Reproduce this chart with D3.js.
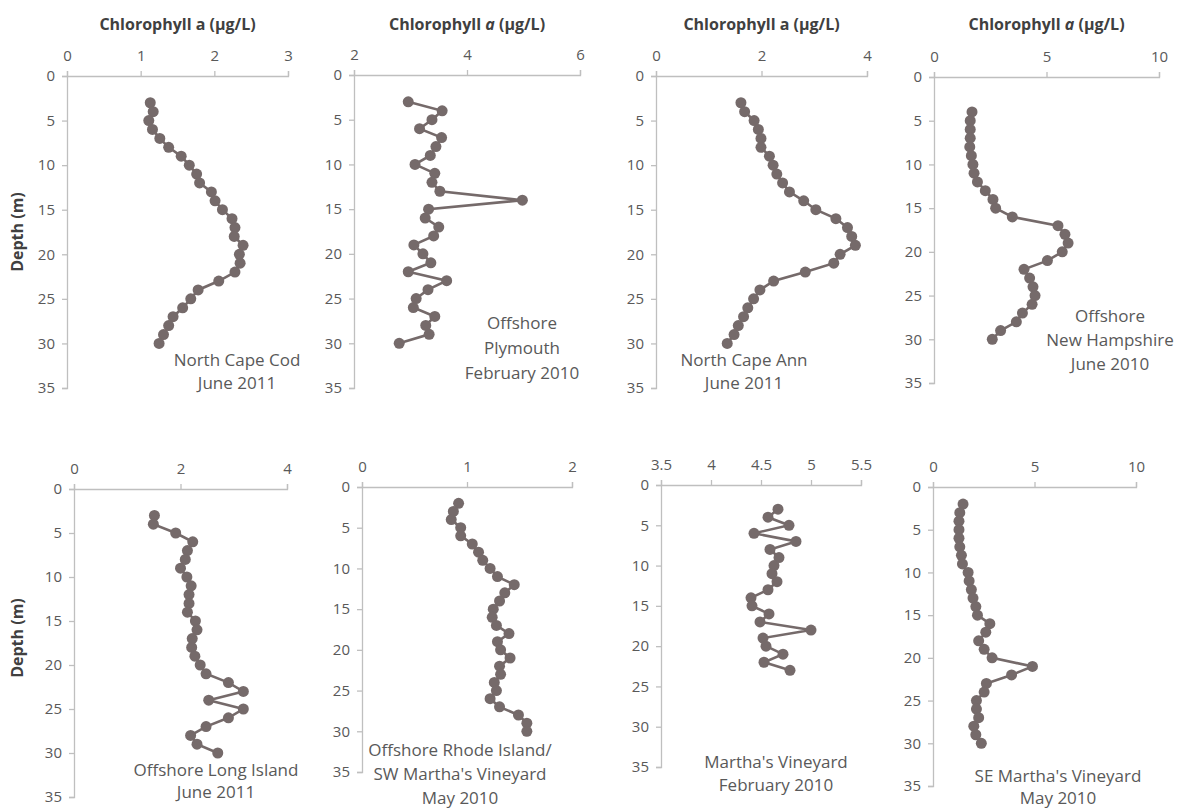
<!DOCTYPE html>
<html>
<head>
<meta charset="utf-8">
<script src="https://cdn.jsdelivr.net/npm/d3@7"></script>
<style>
  body { margin: 0; background: #fff; }
  svg { font-family: "Open Sans", "Liberation Sans", sans-serif; }
</style>
</head>
<body>
<script>
// depth (m) and chlorophyll a (ug/L) per station
var depthCapeCod = d3.range(3, 31);
var chlCapeCod = [1.13, 1.17, 1.11, 1.16, 1.26, 1.38, 1.55, 1.66, 1.76, 1.80, 1.96, 2.01, 2.11, 2.24,
    2.28, 2.27, 2.39, 2.34, 2.35, 2.28, 2.06, 1.78, 1.68, 1.57, 1.44, 1.38, 1.31, 1.25];

var depthPlymouth = d3.range(3, 31);
var chlPlymouth = [2.96, 3.56, 3.38, 3.16, 3.55, 3.45, 3.35, 3.08, 3.43, 3.38, 3.52, 4.98, 3.32, 3.26,
    3.50, 3.41, 3.06, 3.22, 3.36, 2.96, 3.64, 3.31, 3.10, 3.05, 3.43, 3.27, 3.33, 2.80];

var depthCapeAnn = d3.range(3, 31);
var chlCapeAnn = [1.61, 1.68, 1.86, 1.94, 1.99, 1.99, 2.15, 2.22, 2.29, 2.40, 2.53, 2.80, 3.03, 3.41,
    3.63, 3.71, 3.78, 3.49, 3.37, 2.83, 2.23, 1.97, 1.85, 1.74, 1.66, 1.56, 1.48, 1.35];

var depthNewHampshire = d3.range(4, 31);
var chlNewHampshire = [1.69, 1.61, 1.61, 1.61, 1.59, 1.66, 1.73, 1.78, 1.93, 2.28, 2.62, 2.74, 3.48,
    5.51, 5.82, 5.96, 5.70, 5.04, 4.00, 4.25, 4.40, 4.49, 4.36, 3.93, 3.66, 2.96, 2.59];

var depthLongIsland = d3.range(3, 31);
var chlLongIsland = [1.51, 1.49, 1.91, 2.23, 2.13, 2.09, 2.00, 2.12, 2.20, 2.16, 2.16, 2.13, 2.28, 2.31,
    2.22, 2.21, 2.27, 2.37, 2.48, 2.90, 3.18, 2.53, 3.18, 2.90, 2.48, 2.19, 2.31, 2.70];

var depthRhodeIsland = d3.range(2, 31);
var chlRhodeIsland = [0.92, 0.87, 0.85, 0.94, 0.94, 1.05, 1.11, 1.15, 1.22, 1.29, 1.45, 1.36, 1.31, 1.25,
    1.24, 1.28, 1.40, 1.29, 1.32, 1.41, 1.31, 1.32, 1.26, 1.28, 1.22, 1.31, 1.49, 1.57, 1.57];

var depthMarthasFeb = d3.range(3, 24);
var chlMarthasFeb = [4.67, 4.57, 4.78, 4.43, 4.85, 4.59, 4.68, 4.63, 4.61, 4.66, 4.57, 4.40, 4.41, 4.58,
    4.49, 5.00, 4.52, 4.55, 4.72, 4.53, 4.79];

var depthSEMarthas = d3.range(2, 31);
var chlSEMarthas = [1.48, 1.32, 1.28, 1.28, 1.28, 1.32, 1.40, 1.45, 1.73, 1.78, 1.89, 1.97, 2.11, 2.19,
    2.80, 2.60, 2.25, 2.52, 2.91, 4.90, 3.87, 2.63, 2.52, 2.14, 2.14, 2.25, 2.01, 2.11, 2.38];

// x axis domains and ticks
var domains = [[0, 3], [2, 6], [0, 4], [0, 10], [0, 4], [0, 2], [3.5, 5.5], [0, 10]];
var xTicks = [[0, 1, 2, 3], [2, 4, 6], [0, 2, 4], [0, 5, 10], [0, 2, 4], [0, 1, 2],
    [3.5, 4, 4.5, 5, 5.5], [0, 5, 10]];
var depthTicks = [0, 5, 10, 15, 20, 25, 30, 35];

var stationLabels = [
    ["North Cape Cod", "June 2011"],
    ["Offshore", "Plymouth", "February 2010"],
    ["North Cape Ann", "June 2011"],
    ["Offshore", "New Hampshire", "June 2010"],
    ["Offshore Long Island", "June 2011"],
    ["Offshore Rhode Island/", "SW Martha's Vineyard", "May 2010"],
    ["Martha's Vineyard", "February 2010"],
    ["SE Martha's Vineyard", "May 2010"]
];
var titles = ["Chlorophyll a (\u00b5g/L)", "Chlorophyll *a* (\u00b5g/L)", "Chlorophyll a (\u00b5g/L)",
    "Chlorophyll *a* (\u00b5g/L)", null, null, null, null];

var depths = [depthCapeCod, depthPlymouth, depthCapeAnn, depthNewHampshire,
    depthLongIsland, depthRhodeIsland, depthMarthasFeb, depthSEMarthas];
var chls = [chlCapeCod, chlPlymouth, chlCapeAnn, chlNewHampshire,
    chlLongIsland, chlRhodeIsland, chlMarthasFeb, chlSEMarthas];

// plot boxes: left, right, top (depth 0), bottom (depth 35), label centre x, label baseline y, line step
var layout = [
    {x0: 67, x1: 288, y0: 76, y1: 388, lx: 237, ly: 366, dy: 23},
    {x0: 354, x1: 580, y0: 75, y1: 388, lx: 522, ly: 329, dy: 25},
    {x0: 656, x1: 867, y0: 76, y1: 388, lx: 744, ly: 366, dy: 23},
    {x0: 934, x1: 1159, y0: 77, y1: 383, lx: 1110, ly: 322, dy: 24},
    {x0: 74, x1: 287, y0: 489, y1: 797, lx: 216, ly: 776, dy: 22},
    {x0: 362, x1: 572, y0: 487, y1: 772, lx: 460, ly: 756, dy: 24},
    {x0: 661, x1: 861, y0: 485, y1: 767, lx: 776, ly: 768, dy: 23},
    {x0: 933, x1: 1136, y0: 487, y1: 786, lx: 1058, ly: 782, dy: 22}
];

var width = 1183;
var height = 810;
var markColor = '#756a6a';
var axisColor = '#bfbfbf';
var textColor = '#595959';

var svg = d3.select('body')
    .append('svg')
    .attr('width', width)
    .attr('height', height);

layout.forEach(function(L, i) {
    var x = d3.scaleLinear().domain(domains[i]).range([L.x0, L.x1]);
    var y = d3.scaleLinear().domain([0, 35]).range([L.y0, L.y1]);
    var g = svg.append('g');

    var xAxis = g.append('g')
        .attr('transform', 'translate(0,' + L.y0 + ')')
        .call(d3.axisTop(x).tickValues(xTicks[i]).tickSize(5).tickPadding(10)
            .tickFormat(d3.format('')));
    var yAxis = g.append('g')
        .attr('transform', 'translate(' + L.x0 + ',0)')
        .call(d3.axisLeft(y).tickValues(depthTicks).tickSize(5).tickPadding(7));

    [xAxis, yAxis].forEach(function(a) {
        // drop the axis' own font settings so the page font applies
        a.attr('font-family', null).attr('font-size', 15);
        a.select('.domain').attr('stroke', axisColor).attr('stroke-width', 1.3);
        a.selectAll('.tick line').attr('stroke', axisColor).attr('stroke-width', 1.3);
        a.selectAll('.tick text').attr('fill', textColor);
    });

    var pts = depths[i].map(function(d, k) { return [chls[i][k], d]; });
    var line = d3.line()
        .x(function(d) { return x(d[0]); })
        .y(function(d) { return y(d[1]); });

    g.append('path')
        .datum(pts)
        .attr('d', line)
        .attr('fill', 'none')
        .attr('stroke', markColor)
        .attr('stroke-width', 2.6);

    g.selectAll('circle')
        .data(pts)
        .enter()
        .append('circle')
        .attr('cx', function(d) { return x(d[0]); })
        .attr('cy', function(d) { return y(d[1]); })
        .attr('r', 5.5)
        .attr('fill', markColor);

    if (titles[i]) {
        var parts = titles[i].split('*');
        var t = g.append('text')
            .attr('x', (L.x0 + L.x1) / 2)
            .attr('y', 30)
            .attr('text-anchor', 'middle')
            .attr('fill', '#404040')
            .style('font-size', '16px')
            .style('font-weight', 'bold');
        parts.forEach(function(p, k) {
            t.append('tspan').text(p).style('font-style', k === 1 ? 'italic' : 'normal');
        });
    }

    var lab = g.append('text')
        .attr('text-anchor', 'middle')
        .attr('fill', textColor)
        .style('font-size', '17px');
    stationLabels[i].forEach(function(s, k) {
        lab.append('tspan')
            .attr('x', L.lx)
            .attr('y', L.ly + k * L.dy)
            .text(s);
    });
});

// depth labels on the left column
[232, 638].forEach(function(cy) {
    svg.append('text')
        .attr('transform', 'translate(23,' + cy + ') rotate(-90)')
        .attr('text-anchor', 'middle')
        .attr('fill', '#404040')
        .style('font-size', '16px')
        .style('font-weight', 'bold')
        .text('Depth (m)');
});
</script>
</body>
</html>
